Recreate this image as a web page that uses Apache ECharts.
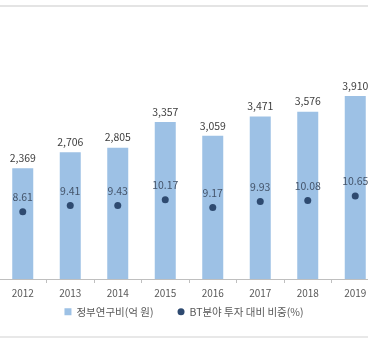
<!DOCTYPE html>
<html><head><meta charset="utf-8">
<script src="https://cdn.jsdelivr.net/npm/echarts@6/dist/echarts.min.js"></script>
<style>html,body{margin:0;padding:0;background:#fff}#c{width:368px;height:342px}</style>
</head><body><div id="c"></div>
<script>
const categories = ['2012','2013','2014','2015','2016','2017','2018','2019'];
const funding = [2369, 2706, 2805, 3357, 3059, 3471, 3576, 3910];
const btShare = [8.61, 9.41, 9.43, 10.17, 9.17, 9.93, 10.08, 10.65];
const seriesNames = ['정부연구비(억 원)', 'BT분야 투자 대비 비중(%)'];

const chart = echarts.init(document.getElementById('c'));
const font = '"Noto Sans CJK KR", "Noto Sans", sans-serif';
chart.setOption({
  animation: false,
  textStyle: { fontFamily: font },
  grid: { left: -1, width: 380, top: 45, bottom: 63, containLabel: false, outerBoundsMode: 'none' },
  legend: {
    bottom: 20, left: 'center', itemGap: 24, itemWidth: 7, itemHeight: 7,
    textStyle: { fontSize: 10.5, color: '#595959', fontFamily: font },
    data: [{ name: seriesNames[0], icon: 'rect' }, { name: seriesNames[1], icon: 'circle' }]
  },
  xAxis: {
    type: 'category', data: categories,
    axisLine: { lineStyle: { color: '#bfbfbf' } },
    axisTick: { show: true, length: 4, lineStyle: { color: '#bfbfbf' } },
    axisLabel: { color: '#595959', fontSize: 10, margin: 9 }
  },
  yAxis: [
    { type: 'value', min: 0, max: 5000, show: false, splitLine: { show: false } },
    { type: 'value', min: 0, max: 30, show: false, splitLine: { show: false } }
  ],
  series: [
    {
      name: seriesNames[0], type: 'bar', data: funding, barWidth: 21, yAxisIndex: 0,
      itemStyle: { color: '#9dc1e5' },
      label: { show: true, position: 'top', distance: 5, color: '#404040', fontSize: 10.5,
        formatter: p => p.value.toLocaleString('en-US') }
    },
    {
      name: seriesNames[1], type: 'line', data: btShare, yAxisIndex: 1,
      lineStyle: { width: 0 }, symbol: 'circle', symbolSize: 7,
      itemStyle: { color: '#2e4a70' },
      label: { show: true, position: 'top', distance: 6, color: '#44546a', fontSize: 10.5,
        formatter: p => p.value.toFixed(2) }
    }
  ],
  graphic: [
    { type: 'rect', shape: { x: 0, y: 5, width: 368, height: 2 }, style: { fill: '#e4e4e4' } },
    { type: 'rect', shape: { x: 0, y: 336, width: 368, height: 2 }, style: { fill: '#e8e8e8' } }
  ]
});
</script></body></html>
